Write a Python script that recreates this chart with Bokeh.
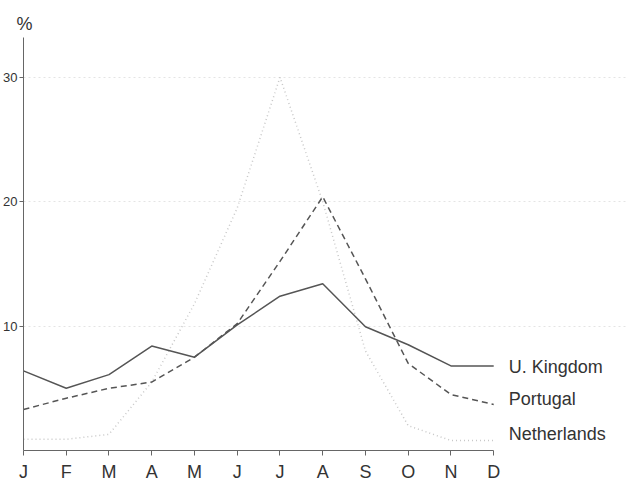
from bokeh.plotting import figure
from bokeh.models import Range1d, FixedTicker
from bokeh.core.properties import value
from bokeh.embed import file_html
from bokeh.resources import INLINE

# ---- data ----
months = ["J", "F", "M", "A", "M", "J", "J", "A", "S", "O", "N", "D"]
uk = [6.4, 5.0, 6.1, 8.4, 7.5, 10.1, 12.4, 13.4, 9.95, 8.5, 6.8, 6.8]
portugal = [3.3, 4.2, 5.0, 5.5, 7.5, 10.2, 15.2, 20.4, 13.8, 7.0, 4.5, 3.7]
netherlands = [0.9, 0.9, 1.3, 5.5, 11.8, 19.5, 30.0, 20.0, 8.0, 2.0, 0.8, 0.8]
y_ticks = [10, 20, 30]
series_names = ["U. Kingdom", "Portugal", "Netherlands"]

# ---- layout constants ----
Y_TOP = 33.2
X_END = 14.13
FONT = "Liberation Sans"
TXT = "#333333"
AX = "#666666"

x = list(range(len(months)))

p = figure(width=627, height=484, output_backend="svg", toolbar_location=None,
           x_range=Range1d(0, X_END), y_range=Range1d(0, Y_TOP),
           min_border_left=22, min_border_right=0, min_border_top=37,
           min_border_bottom=33)
p.outline_line_color = None
p.background_fill_color = "white"
p.border_fill_color = "white"

# "%" unit label above the y axis
p.title.text = "%"
p.title.align = "left"
p.title.offset = -7
p.title.standoff = 8
p.title.text_font = FONT
p.title.text_font_size = "18px"
p.title.text_font_style = "normal"
p.title.text_color = TXT

# grid
p.xgrid.grid_line_color = None
p.ygrid.ticker = FixedTicker(ticks=y_ticks)
p.ygrid.grid_line_color = "#e4e4e4"
p.ygrid.grid_line_dash = "2 3"

# x axis
xa = p.xaxis[0]
xa.ticker = FixedTicker(ticks=x)
xa.major_label_overrides = {i: m for i, m in enumerate(months)}
xa.bounds = (0, len(months) - 1)
xa.axis_line_color = AX
xa.major_tick_line_color = AX
xa.major_tick_in = 0
xa.major_tick_out = 5
xa.minor_tick_line_color = None
xa.major_label_text_font = FONT
xa.major_label_text_font_size = "18px"
xa.major_label_text_color = TXT
xa.major_label_standoff = 6

# y axis
ya = p.yaxis[0]
ya.ticker = FixedTicker(ticks=y_ticks)
ya.axis_line_color = AX
ya.major_tick_line_color = AX
ya.major_tick_in = 0
ya.major_tick_out = 4
ya.minor_tick_line_color = None
ya.major_label_text_font = FONT
ya.major_label_text_font_size = "13px"
ya.major_label_text_color = TXT
ya.major_label_standoff = 2

# series
p.line(x, netherlands, line_color="#c8c8c8", line_width=1.5, line_dash="1 3")
p.line(x, portugal, line_color="#555555", line_width=1.5, line_dash="6 4")
p.line(x, uk, line_color="#555555", line_width=1.5)

# direct labels at line ends
last = len(months) - 1
p.text(x=[last] * 3, y=[uk[-1], portugal[-1], netherlands[-1]], text=series_names,
       x_offset=15, y_offset=[1, -5, -7],
       text_font=value(FONT), text_font_size="18px", text_color=TXT,
       text_baseline="middle", text_align="left")

open("out.html", "w").write(file_html(p, INLINE))
